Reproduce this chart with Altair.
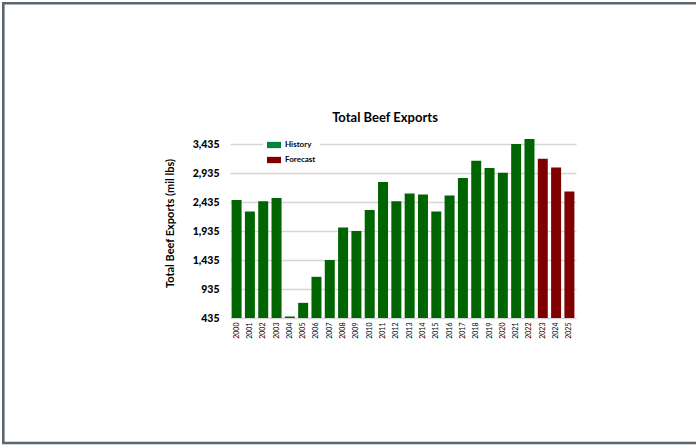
import altair as alt
import pandas as pd

years = [str(y) for y in range(2000, 2026)]
exports = [2469, 2270, 2446, 2503, 463, 696, 1145, 1435, 1997, 1935,
           2299, 2781, 2446, 2583, 2566, 2270, 2549, 2850, 3145, 3020,
           2941, 3435, 3520, 3179, 3032, 2617]
series = ["History"] * 23 + ["Forecast"] * 3
series_names = ["History", "Forecast"]
bar_colors = ["#006400", "#800000"]
legend_colors = ["#00843D", "#800000"]
tick_values = [435, 935, 1435, 1935, 2435, 2935, 3435]
axis_min, axis_max = 435, 3711

df = pd.DataFrame({"Year": years, "Exports": exports, "Series": series})

W, H = 346, 190
PL, PT = 230, 128
FONT = "Lato"

x_enc = alt.X(
    "Year:O", title=None, sort=years,
    scale=alt.Scale(paddingInner=0.25, paddingOuter=0.12),
    axis=alt.Axis(labelAngle=-90, labelFontSize=7, ticks=False, domain=False,
                  labelPadding=4, labelColor="#000000", labelFont=FONT,
                  labelAlign="right", labelBaseline="middle", zindex=2),
)
y_enc = alt.Y(
    "Exports:Q",
    scale=alt.Scale(domain=[axis_min, axis_max], nice=False, zero=False),
    axis=alt.Axis(values=tick_values, format=",.0f", title="Total Beef Exports (mil lbs)",
                  titleFontSize=11, titleFont=FONT, titleFontWeight="bold", titleColor="#000000",
                  titlePadding=17, labelFontSize=10.5, labelFont=FONT, labelFontWeight=900,
                  labelColor="#000000", labelPadding=11, ticks=False, domain=False,
                  gridColor="#d6d6d6", gridWidth=1.5),
)

bars = alt.Chart(df).mark_bar().encode(
    x=x_enc,
    y=y_enc,
    y2=alt.datum(axis_min),
    color=alt.Color("Series:N", scale=alt.Scale(domain=series_names, range=bar_colors), legend=None),
)

legend_layer = alt.Chart(df).mark_square(size=0, filled=True, opacity=1).encode(
    fill=alt.Fill(
        "Series:N",
        scale=alt.Scale(domain=series_names, range=legend_colors),
        legend=alt.Legend(
            title=None, orient="none", legendX=33, legendY=6, padding=4,
            fillColor="white", symbolType="M-1,-0.45H1V0.45H-1Z", symbolSize=196,
            symbolStrokeWidth=0, symbolOpacity=1, labelFont=FONT, labelFontSize=8,
            labelFontWeight="bold", labelColor="#000000", rowPadding=4, labelOffset=4,
        ),
    ),
)

frame_data = alt.Data(values=[{"k": 1}])
top_border = alt.Chart(frame_data).mark_rule(color="#5a6670", strokeWidth=2.6).encode(
    x=alt.value(-PL + 2), x2=alt.value(696 - PL), y=alt.value(-PT + 3.3))
left_border = alt.Chart(frame_data).mark_rule(color="#5a6670", strokeWidth=2.6).encode(
    x=alt.value(-PL + 3.3), y=alt.value(-PT + 2), y2=alt.value(444 - PT))
bottom_border = alt.Chart(frame_data).mark_rule(color="#5a6670", strokeWidth=2.6).encode(
    x=alt.value(-PL + 2), x2=alt.value(696 - PL), y=alt.value(443 - PT))

chart = alt.layer(bars, legend_layer, top_border, left_border, bottom_border).resolve_scale(
    color="independent", fill="independent"
).properties(
    width=W, height=H,
    title=alt.TitleParams("Total Beef Exports", fontSize=13, font=FONT, fontWeight="bold",
                          color="#000000", anchor="middle", frame="group", dx=-18,
                          baseline="bottom", offset=-137),
    padding={"left": PL, "top": PT, "right": 696 - PL - W, "bottom": 445 - PT - H},
    autosize=alt.AutoSizeParams(type="none"),
    background="white",
).configure_view(stroke=None)

chart.save("out.html", embed_options={"renderer": "svg", "actions": False})
